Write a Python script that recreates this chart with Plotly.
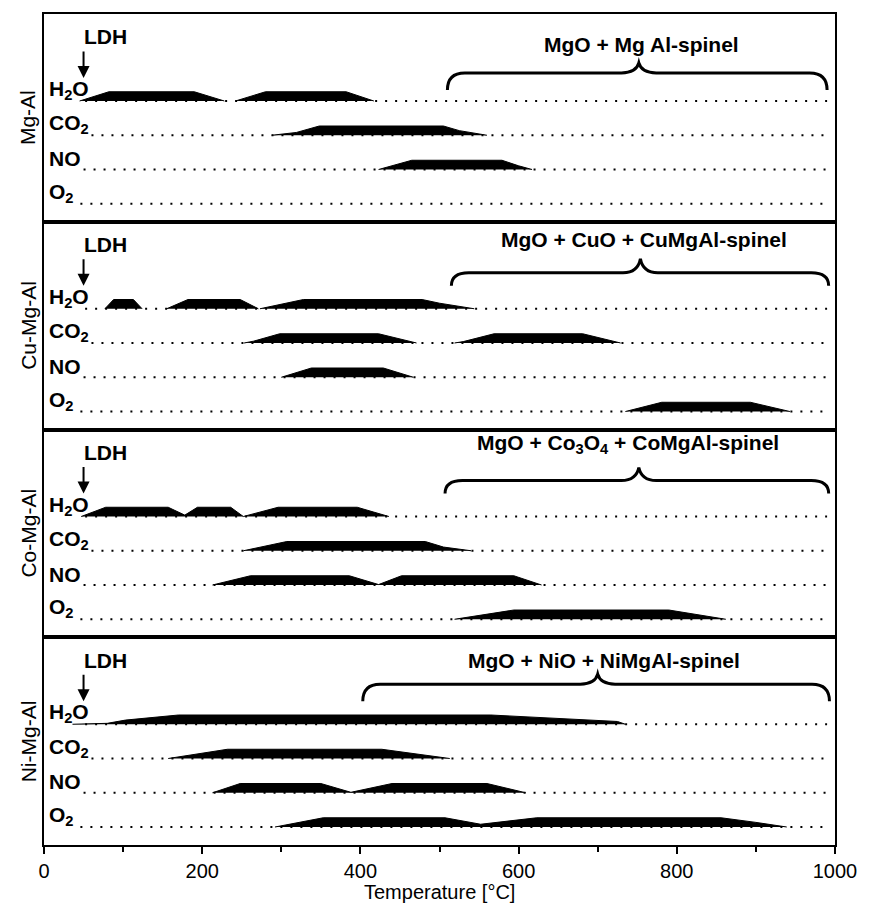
import plotly.graph_objects as go
from plotly.subplots import make_subplots

# ---------------- data (temperature in degC, relative band height 0..1) ----------------
samples = ["Mg-Al", "Cu-Mg-Al", "Co-Mg-Al", "Ni-Mg-Al"]
gas_names = ["H2O", "CO2", "NO", "O2"]
gas_labels = ["<b>H<sub>2</sub>O</b>", "<b>CO<sub>2</sub></b>", "<b>NO</b>", "<b>O<sub>2</sub></b>"]
phase_texts = [
    "<b>MgO + Mg Al-spinel</b>",
    "<b>MgO + CuO + CuMgAl-spinel</b>",
    "<b>MgO + Co<sub>3</sub>O<sub>4</sub> + CoMgAl-spinel</b>",
    "<b>MgO + NiO + NiMgAl-spinel</b>",
]
# brace ranges: start, tip, end (degC)
brace_start = [510, 515, 507, 403]
brace_tip = [752, 754, 752, 700]
brace_end = [990, 992, 992, 993]
phase_text_x = [755, 759, 738, 708]
ldh_T = 50

mgal_h2o = [(45, 0), (82, 1), (190, 1), (228, 0), (242, 0), (280, 1), (382, 1), (417, 0)]
mgal_co2 = [(288, 0), (319, 0.3), (348, 1), (505, 1), (525, 0.5), (560, 0)]
mgal_no = [(423, 0), (465, 1), (579, 1), (600, 0.4), (617, 0)]
mgal_o2 = []

cumgal_h2o = [(77, 0), (88, 1), (113, 1), (124, 0), (155, 0), (182, 1), (248, 1), (271, 0),
              (273, 0), (284, 0.2), (328, 1), (478, 1), (500, 0.6), (544, 0)]
cumgal_co2 = [(253, 0), (265, 0.2), (298, 1), (423, 1), (471, 0), (519, 0), (530, 0.15),
              (569, 1), (681, 1), (729, 0)]
cumgal_no = [(300, 0), (338, 1), (429, 1), (467, 0)]
cumgal_o2 = [(735, 0), (781, 1), (893, 1), (943, 0)]

comgal_h2o = [(47, 0), (78, 1), (157, 1), (178, 0.15), (194, 1), (236, 1), (252, 0),
              (296, 1), (396, 1), (436, 0)]
comgal_co2 = [(252, 0), (307, 1), (482, 1), (505, 0.4), (540, 0)]
comgal_no = [(213, 0), (261, 1), (386, 1), (423, 0.05), (452, 1), (594, 1), (629, 0)]
comgal_o2 = [(519, 0), (594, 1), (790, 1), (862, 0)]

nimgal_h2o = [(36, 0), (80, 0.1), (103, 0.45), (170, 1), (565, 1), (725, 0.3), (735, 0)]
nimgal_co2 = [(157, 0), (232, 1), (427, 1), (513, 0)]
nimgal_no = [(213, 0), (248, 1), (350, 1), (388, 0.05), (440, 1), (560, 1), (609, 0)]
nimgal_o2 = [(292, 0), (353, 1), (507, 1), (552, 0.3), (623, 1), (856, 1), (900, 0.5), (939, 0)]

bands = [
    [mgal_h2o, mgal_co2, mgal_no, mgal_o2],
    [cumgal_h2o, cumgal_co2, cumgal_no, cumgal_o2],
    [comgal_h2o, comgal_co2, comgal_no, comgal_o2],
    [nimgal_h2o, nimgal_co2, nimgal_no, nimgal_o2],
]

x_ticks = [0, 200, 400, 600, 800, 1000]

# ---------------- styling constants ----------------
FONT = "Liberation Sans, Arial, Helvetica, sans-serif"
ROW_Y = [3, 2, 1, 0]          # H2O, CO2, NO, O2 baselines
BAND_H = 0.27
Y_RANGE = [-0.525, 5.54]
DOT_START = [52, 60, 50, 46]
DOT_END = 990
# brace vertical geometry per panel (y units): end, top, tip, text
brace_y = [
    (3.32, 3.82, 4.11, 4.64),
    (3.67, 4.05, 4.46, 5.03),
    (3.67, 4.05, 4.43, 5.12),
    (3.67, 4.17, 4.46, 4.86),
]


def split_humps(pts):
    """Split a point list into separate humps wherever two consecutive points lie on the baseline."""
    humps, cur = [], []
    for i, (t, h) in enumerate(pts):
        cur.append((t, h))
        if h == 0 and len(cur) > 1 and i + 1 < len(pts) and pts[i + 1][1] == 0:
            humps.append(cur)
            cur = []
    if len(cur) > 1:
        humps.append(cur)
    return humps


fig = make_subplots(rows=4, cols=1, shared_xaxes=True, vertical_spacing=0)

for p in range(4):
    r = p + 1
    # dotted baselines
    for g in range(4):
        fig.add_trace(go.Scatter(
            x=[DOT_START[g], DOT_END], y=[ROW_Y[g], ROW_Y[g]], mode="lines",
            line=dict(color="black", width=2, dash="2px,8px"),
            hoverinfo="skip", showlegend=False), row=r, col=1)
    # filled bands
    for g in range(4):
        for hump in split_humps(bands[p][g]):
            xs = [t for t, h in hump]
            ys = [ROW_Y[g] + BAND_H * h for t, h in hump]
            fig.add_trace(go.Scatter(
                x=xs, y=ys, mode="lines", fill="toself", fillcolor="black",
                line=dict(color="black", width=1), hoverinfo="skip", showlegend=False),
                row=r, col=1)

    xref = "x" if r == 1 else f"x{r}"
    yref = "y" if r == 1 else f"y{r}"

    # gas labels
    for g in range(4):
        fig.add_annotation(x=4, y=ROW_Y[g], xref=xref, yref=yref, text=gas_labels[g],
                           showarrow=False, xanchor="left", yanchor="middle", yshift=11,
                           font=dict(family=FONT, size=21, color="black"))
    # LDH + arrow
    fig.add_annotation(x=78, y=4.87, xref=xref, yref=yref, text="<b>LDH</b>", showarrow=False,
                       xanchor="center", yanchor="middle",
                       font=dict(family=FONT, size=21, color="black"))
    fig.add_annotation(x=ldh_T, y=3.67, xref=xref, yref=yref, ax=ldh_T, ay=4.49,
                       axref=xref, ayref=yref, text="", showarrow=True,
                       arrowhead=2, arrowsize=1.2, arrowwidth=2, arrowcolor="black")
    # brace
    ye, yt, yp, ytx = brace_y[p]
    x0, xt, x1 = brace_start[p], brace_tip[p], brace_end[p]
    rr, w = 22, 22
    path = (f"M {x0},{ye} Q {x0},{yt} {x0 + rr},{yt} L {xt - w},{yt} "
            f"Q {xt - w * 0.15},{yt} {xt},{yp} Q {xt + w * 0.15},{yt} {xt + w},{yt} "
            f"L {x1 - rr},{yt} Q {x1},{yt} {x1},{ye}")
    fig.add_shape(type="path", path=path, xref=xref, yref=yref,
                  line=dict(color="black", width=3))
    fig.add_annotation(x=phase_text_x[p], y=ytx, xref=xref, yref=yref, text=phase_texts[p],
                       showarrow=False, xanchor="center", yanchor="middle",
                       font=dict(family=FONT, size=21, color="black"))
    # sample name (rotated)
    fig.add_annotation(x=-0.02, y=0.5, xref="paper", yref=f"{yref} domain", text=samples[p],
                       textangle=-90, showarrow=False, xanchor="center", yanchor="middle",
                       font=dict(family=FONT, size=21, color="black"))

    fig.update_yaxes(range=Y_RANGE, showticklabels=False, ticks="", showgrid=False,
                     zeroline=False, showline=True, linecolor="black", linewidth=2,
                     mirror=True, row=r, col=1)
    fig.update_xaxes(range=[0, 1000], showgrid=False, zeroline=False, showline=True,
                     linecolor="black", linewidth=2, mirror=True, row=r, col=1,
                     showticklabels=(r == 4), ticks=("outside" if r == 4 else ""))

fig.update_xaxes(row=4, col=1, tickvals=x_ticks, ticklen=7, tickwidth=2, tickcolor="black",
                 tickfont=dict(family=FONT, size=20, color="black"),
                 minor=dict(ticks="outside", ticklen=5, tickwidth=2, tickcolor="black",
                            tick0=0, dtick=100))

fig.add_annotation(x=0.5, y=-0.0566, xref="paper", yref="paper", text="Temperature [°C]",
                   showarrow=False, xanchor="center", yanchor="middle",
                   font=dict(family=FONT, size=20, color="black"))

fig.update_layout(width=869, height=906, margin=dict(l=44, r=24, t=14, b=61),
                  plot_bgcolor="white", paper_bgcolor="white", showlegend=False)

fig.write_html("out.html")
